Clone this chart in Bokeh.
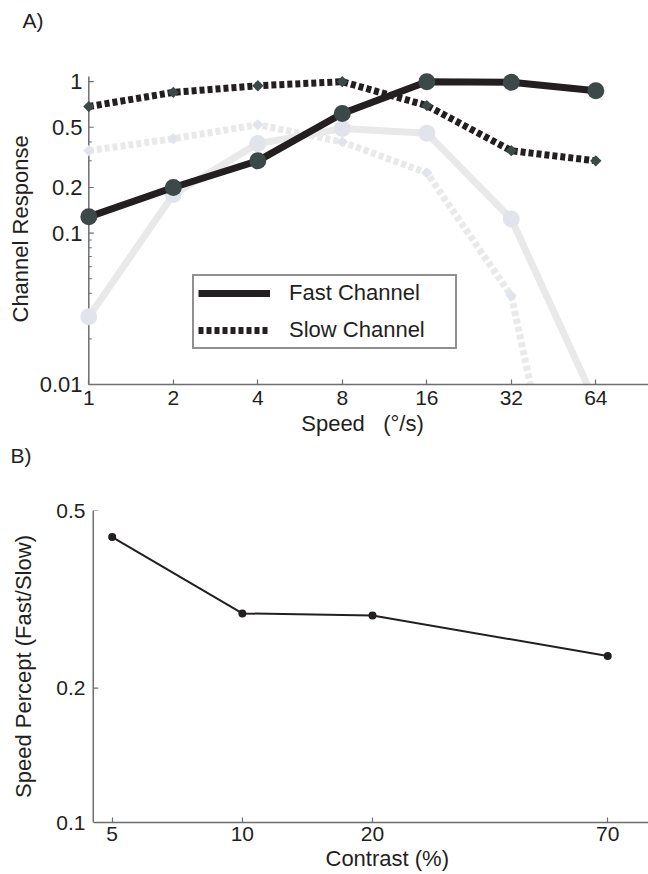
import math
from bokeh.plotting import figure
from bokeh.models import Range1d, FixedTicker, Legend, LegendItem, Title
from bokeh.layouts import column
from bokeh.embed import file_html
from bokeh.resources import INLINE

# ---------------- data: panel A ----------------
speeds = [1, 2, 4, 8, 16, 32, 64]
fast_channel = [0.128, 0.20, 0.30, 0.616, 1.0, 0.99, 0.87]
slow_channel = [0.685, 0.85, 0.94, 1.0, 0.695, 0.35, 0.30]
fast_channel_faint = [0.028, 0.18, 0.39, 0.49, 0.457, 0.124, 0.0075]
slow_channel_faint = [0.35, 0.42, 0.52, 0.40, 0.25, 0.0385, 0.0001]
speed_ticks = [1, 2, 4, 8, 16, 32, 64]
speed_tick_labels = ["1", "2", "4", "8", "16", "32", "64"]
response_ticks = [0.01, 0.1, 0.2, 0.5, 1]
response_tick_labels = ["0.01", "0.1", "0.2", "0.5", "1"]
response_minor_ticks = [0.02, 0.03, 0.04, 0.05, 0.06, 0.07, 0.08, 0.09, 0.3, 0.4]
speed_axis_bounds = [1, 98.6]
response_axis_bounds = [0.01, 1.08]
legend_labels = ["Fast Channel", "Slow Channel"]

# ---------------- data: panel B ----------------
contrast = [5, 10, 20, 70]
speed_percept = [0.436, 0.294, 0.291, 0.236]
contrast_ticks = [5, 10, 20, 70]
contrast_tick_labels = ["5", "10", "20", "70"]
percept_ticks = [0.1, 0.2, 0.5]
percept_tick_labels = ["0.1", "0.2", "0.5"]
contrast_axis_bounds = [4.52, 86.98]
percept_axis_bounds = [0.1, 0.5]

FONT = "Liberation Sans"
INK = "#231f20"
AXIS = "#6d6e71"
DARK_MARK = "#3d4848"
FAINT_LINE = "#e9e9e9"
FAINT_MARK = "#e1e5eb"


def style_axis(ax, tick_font="21px"):
    ax.axis_line_color = AXIS
    ax.axis_line_width = 1.5
    ax.major_tick_line_color = AXIS
    ax.major_tick_line_width = 1.2
    ax.minor_tick_line_color = AXIS
    ax.minor_tick_line_width = 1
    ax.major_tick_in = 5
    ax.major_tick_out = 0
    ax.minor_tick_in = 3
    ax.minor_tick_out = 0
    ax.major_label_text_font = FONT
    ax.major_label_text_font_size = tick_font
    ax.major_label_text_color = INK
    ax.axis_label_text_font = FONT
    ax.axis_label_text_font_size = "22px"
    ax.axis_label_text_font_style = "normal"
    ax.axis_label_text_color = INK


def label_only(ax):
    ax.axis_line_color = None
    ax.major_tick_line_color = None
    ax.minor_tick_line_color = None


def style_title(t, text, offset, standoff, size="21px"):
    t.text = text
    t.align = "left"
    t.offset = offset
    t.standoff = standoff
    t.text_font = FONT
    t.text_font_size = size
    t.text_font_style = "normal"
    t.text_color = INK


def draw_vertical_axis(p, x_at, bounds, ticks, minor):
    p.segment(x0=[x_at], y0=[bounds[0]], x1=[x_at], y1=[bounds[1]],
              line_color=AXIS, line_width=1.5)
    p.ray(x=[x_at] * len(ticks), y=ticks, length=5, length_units="screen",
          angle=0, line_color=AXIS, line_width=1.2)
    if minor:
        p.ray(x=[x_at] * len(minor), y=minor, length=3, length_units="screen",
              angle=0, line_color=AXIS, line_width=1)


# ================= Panel A =================
pa = figure(width=648, height=470, x_axis_type="log", y_axis_type="log",
            x_range=Range1d(0.904, 98.6), y_range=Range1d(0.01, 1.928),
            output_backend="svg", toolbar_location=None,
            min_border_left=76, min_border_right=0, min_border_top=36,
            min_border_bottom=86)
pa.outline_line_color = None
pa.grid.grid_line_color = None
pa.background_fill_color = "white"
pa.border_fill_color = "white"
style_title(pa.title, "A)", -54, 13)

y_lab = pa.yaxis[0]
style_axis(y_lab, "22px")
label_only(y_lab)
y_lab.ticker = FixedTicker(ticks=response_ticks, minor_ticks=[])
y_lab.major_label_overrides = {t: l for t, l in zip(response_ticks, response_tick_labels)}
y_lab.major_label_standoff = -6

title_y = Title()
style_title(title_y, "Channel Response", 62, 8, "22px")
pa.add_layout(title_y, "left")

draw_vertical_axis(pa, speed_axis_bounds[0], response_axis_bounds, response_ticks,
                   response_minor_ticks)

xa = pa.xaxis[0]
style_axis(xa)
xa.bounds = tuple(speed_axis_bounds)
xa.ticker = FixedTicker(ticks=speed_ticks, minor_ticks=[])
xa.major_label_overrides = {t: l for t, l in zip(speed_ticks, speed_tick_labels)}
xa.major_label_standoff = 6
xa.axis_label = "Speed\u00a0\u00a0\u00a0(\u00b0/s)"
xa.axis_label_standoff = 3

pa.line(speeds, slow_channel_faint, line_color=FAINT_LINE, line_width=7, line_dash="5 3")
pa.line(speeds, fast_channel_faint, line_color=FAINT_LINE, line_width=7)
pa.scatter(speeds, slow_channel_faint, marker="square", angle=math.pi / 4, size=8,
           fill_color=FAINT_MARK, line_color=None)
pa.scatter(speeds, fast_channel_faint, marker="circle", size=17,
           fill_color=FAINT_MARK, line_color=None)

slow_r = pa.line(speeds, slow_channel, line_color=INK, line_width=7, line_dash="5 3")
fast_r = pa.line(speeds, fast_channel, line_color=INK, line_width=7)
pa.scatter(speeds, slow_channel, marker="square", angle=math.pi / 4, size=8,
           fill_color=DARK_MARK, line_color=None)
pa.scatter(speeds, fast_channel, marker="circle", size=17,
           fill_color=DARK_MARK, line_color=None)

legend = Legend(items=[LegendItem(label=legend_labels[0], renderers=[fast_r]),
                       LegendItem(label=legend_labels[1], renderers=[slow_r])],
                location=(116, 35), orientation="vertical",
                border_line_color=INK, border_line_width=2,
                background_fill_color="white", background_fill_alpha=1,
                padding=4, spacing=11, margin=0,
                glyph_width=72, glyph_height=20, label_height=20,
                label_standoff=19, label_width=162,
                label_text_font=FONT, label_text_font_size="22px",
                label_text_color=INK)
pa.add_layout(legend)

# panel letter of B sits in the space under panel A
title_b = Title()
style_title(title_b, "B)", -66, 7)
pa.add_layout(title_b, "below")

# ================= Panel B =================
pb = figure(width=648, height=404, x_axis_type="log", y_axis_type="log",
            x_range=Range1d(4.134, 86.98), y_range=Range1d(0.1, 0.5),
            output_backend="svg", toolbar_location=None,
            min_border_left=76, min_border_right=0, min_border_top=40,
            min_border_bottom=52)
pb.outline_line_color = None
pb.grid.grid_line_color = None
pb.background_fill_color = "white"
pb.border_fill_color = "white"

yb = pb.yaxis[0]
style_axis(yb)
label_only(yb)
yb.ticker = FixedTicker(ticks=percept_ticks, minor_ticks=[])
yb.major_label_overrides = {t: l for t, l in zip(percept_ticks, percept_tick_labels)}
yb.major_label_standoff = -9
yb.axis_label = "Speed Percept (Fast/Slow)"
yb.axis_label_standoff = 17

draw_vertical_axis(pb, contrast_axis_bounds[0], percept_axis_bounds, percept_ticks, [])

xb = pb.xaxis[0]
style_axis(xb)
xb.bounds = tuple(contrast_axis_bounds)
xb.ticker = FixedTicker(ticks=contrast_ticks, minor_ticks=[])
xb.major_label_overrides = {t: l for t, l in zip(contrast_ticks, contrast_tick_labels)}
xb.major_label_standoff = 4

title_x = Title()
style_title(title_x, "Contrast (%)", 249, 0, "22px")
pb.add_layout(title_x, "below")

pb.line(contrast, speed_percept, line_color=INK, line_width=2)
pb.scatter(contrast, speed_percept, marker="circle", size=8, fill_color=INK, line_color=None)

layout = column(pa, pb)
open("out.html", "w").write(file_html(layout, INLINE))
